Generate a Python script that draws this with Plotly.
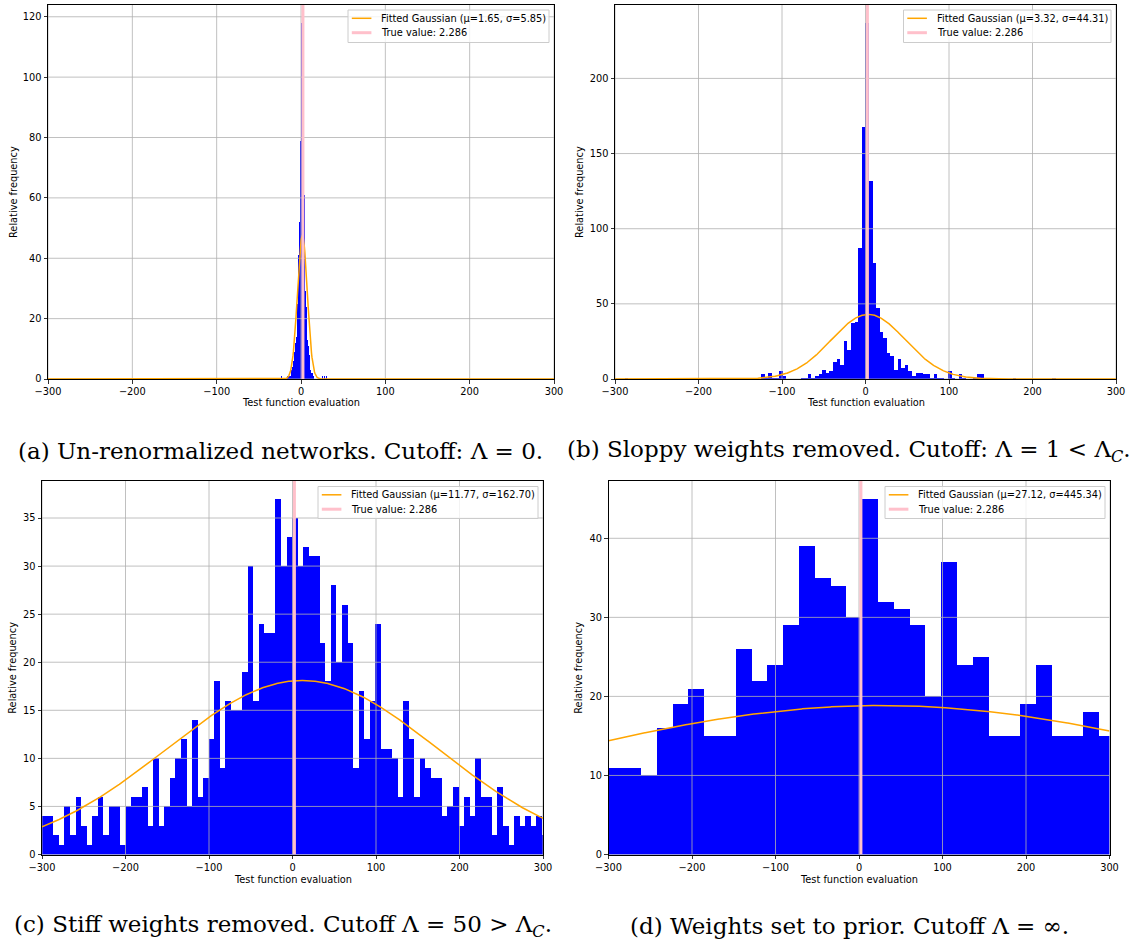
import numpy as np
import plotly.graph_objects as go

W, H = 1132, 947

# ---------------- data ----------------
x_ticks = [-300, -200, -100, 0, 100, 200, 300]
x_limits = [-300, 300]
true_value = 2.286

# (a) Un-renormalized networks
a_edge0 = -17.12
a_bin_width = 0.62
a_dense_start = 0
a_counts = [0, 1, 2, 1, 2, 1, 2, 1, 2, 3, 4, 4, 5, 6, 7, 9, 10, 12, 14, 20,
            25, 33, 41, 45, 52, 60, 79, 72, 118, 90, 75, 70, 65, 58, 61, 35,
            29, 28, 24, 20, 13, 11, 10, 8, 5, 3, 2, 2, 1, 2, 1, 1, 1, 0, 1,
            0, 1, 0, 1]
a_sparse_index = [-141, -13, -10, -7, 65, 68, 72, 76, 115]
a_sparse_counts = [1, 1, 1, 1, 1, 1, 1, 1, 1]
a_mu, a_sigma, a_peak = 1.65, 5.85, 47.5
a_yticks = [0, 20, 40, 60, 80, 100, 120]

# (b) Sloppy weights removed
b_edge0 = -0.2
b_bin_width = 4.3
b_dense_start = -33
b_counts = [1, 1, 0, 0, 3, 1, 4, 1, 1, 5, 2, 0, 0, 0, 0, 1, 1, 3, 1, 2,
            3, 6, 4, 5, 11, 13, 9, 25, 19, 37, 38, 87, 168, 237, 132, 77, 47,
            31, 27, 17, 15, 6, 13, 7, 9, 5, 2, 4, 4, 3, 3, 1, 3, 1, 1, 0, 5,
            1, 0, 3, 1, 0, 0, 1, 3, 3, 0, 0, 1, 1]
b_sparse_index = [-67, -46, -40, 41, 52]
b_sparse_counts = [1, 1, 1, 1, 1]
b_mu, b_sigma, b_peak = 3.32, 44.31, 43.0
b_yticks = [0, 50, 100, 150, 200]

# (c) Stiff weights removed
c_edge0 = -299.7
c_bin_width = 6.648
c_dense_start = 0
c_counts = [4, 4, 2, 1, 5, 2, 6, 3, 1, 4, 6, 2, 5, 5, 1, 5, 6, 6, 7, 3,
            10, 3, 5, 8, 10, 12, 5, 14, 6, 8, 12, 18, 9, 16, 15, 15, 19, 30,
            16, 24, 23, 23, 37, 30, 33, 35, 30, 32, 31, 31, 22, 18, 28, 20,
            26, 22, 9, 17, 12, 16, 24, 11, 11, 10, 6, 16, 12, 6, 10, 9, 8, 8,
            4, 5, 7, 3, 6, 4, 10, 6, 6, 2, 7, 3, 1, 4, 3, 4, 3, 4, 2]
c_sparse_index = []
c_sparse_counts = []
c_mu, c_sigma, c_peak = 11.77, 162.70, 18.1
c_yticks = [0, 5, 10, 15, 20, 25, 30, 35]

# (d) Weights set to prior
d_edge0 = -317.8
d_bin_width = 18.92
d_dense_start = 0
d_counts = [12, 11, 11, 10, 16, 19, 21, 15, 15, 26, 22, 24, 29, 39, 35, 34,
            30, 45, 32, 31, 29, 20, 37, 24, 25, 15, 15, 19, 24, 15, 15, 18, 15]
d_sparse_index = []
d_sparse_counts = []
d_mu, d_sigma, d_peak = 27.12, 445.34, 18.85
d_yticks = [0, 10, 20, 30, 40]

captions = [
    "(a) Un-renormalized networks. Cutoff: Λ = 0.",
    "(b) Sloppy weights removed. Cutoff: Λ = 1 &lt; Λ<sub><i>C</i></sub>.",
    "(c) Stiff weights removed. Cutoff Λ = 50 &gt; Λ<sub><i>C</i></sub>.",
    "(d) Weights set to prior. Cutoff Λ = ∞.",
]

x_title = "Test function evaluation"
y_title = "Relative frequency"

# ---------------- layout geometry (pixels) ----------------
boxes = [(48, 5, 554, 379), (615, 5, 1116, 379),
         (42, 481, 543, 854.5), (608.5, 481, 1109.5, 854.5)]
legend_boxes = [(348, 10, 549, 42.5), (903.5, 10, 1111, 42.5),
                (318, 486.5, 538, 518.5), (885, 486.5, 1105, 518.5)]
ytitle_x = [13, 579, 13, 579]
xtitle_y = [403, 403, 879, 879]
caption_pos = [(280, 451), (849, 451), (283, 926), (849, 926)]

FONT = "DejaVu Sans"
FS = 9.8
BLUE = "#0000ff"
ORANGE = "#ffa500"
PINK = "#ffc0cb"
GRID = "#b0b0b0"

panels = [
    (a_edge0, a_bin_width, a_dense_start, a_counts, a_sparse_index, a_sparse_counts, a_mu, a_sigma, a_peak, a_yticks),
    (b_edge0, b_bin_width, b_dense_start, b_counts, b_sparse_index, b_sparse_counts, b_mu, b_sigma, b_peak, b_yticks),
    (c_edge0, c_bin_width, c_dense_start, c_counts, c_sparse_index, c_sparse_counts, c_mu, c_sigma, c_peak, c_yticks),
    (d_edge0, d_bin_width, d_dense_start, d_counts, d_sparse_index, d_sparse_counts, d_mu, d_sigma, d_peak, d_yticks),
]

fig = go.Figure()
layout = dict(width=W, height=H,
              margin=dict(l=0, r=0, t=0, b=0, pad=0, autoexpand=False),
              paper_bgcolor="white", plot_bgcolor="white",
              bargap=0, barmode="overlay", showlegend=False,
              font=dict(family=FONT, size=FS, color="black"))
annotations = []
shapes = []


def px_x(v):
    return v / W


def px_y(v):
    return 1 - v / H


for i, (edge0, bw, dstart, counts, sidx, scounts, mu, sigma, peak, yticks) in enumerate(panels):
    n = "" if i == 0 else str(i + 1)
    xa, ya = "x" + n, "y" + n
    idx = list(range(dstart, dstart + len(counts))) + list(sidx)
    cnt = list(counts) + list(scounts)
    centers = [edge0 + (k + 0.5) * bw for k in idx]
    ytop = 1.05 * max(cnt)

    fig.add_trace(go.Bar(x=centers, y=cnt, width=bw, marker=dict(color=BLUE, line=dict(width=0)),
                         showlegend=False, hoverinfo="skip", xaxis=xa, yaxis=ya))
    # grid (drawn above bars, below lines, like matplotlib's default)
    gx, gy = [], []
    for t in x_ticks:
        gx += [t, t, None]
        gy += [0, ytop, None]
    for t in yticks:
        gx += [x_limits[0], x_limits[1], None]
        gy += [t, t, None]
    fig.add_trace(go.Scatter(x=gx, y=gy, mode="lines", line=dict(color=GRID, width=0.8),
                             showlegend=False, hoverinfo="skip", xaxis=xa, yaxis=ya))
    xs = np.linspace(x_limits[0], x_limits[1], 1201)
    ys = peak * np.exp(-0.5 * ((xs - mu) / sigma) ** 2)
    fig.add_trace(go.Scatter(x=xs, y=ys, mode="lines", line=dict(color=ORANGE, width=1.5),
                             name=f"Fitted Gaussian (μ={mu:.2f}, σ={sigma:.2f})",
                             hoverinfo="skip", xaxis=xa, yaxis=ya))
    fig.add_trace(go.Scatter(x=[true_value, true_value], y=[0, ytop], mode="lines",
                             line=dict(color=PINK, width=3), hoverinfo="skip",
                             name=f"True value: {true_value}", xaxis=xa, yaxis=ya))

    l, t, r, b = boxes[i]
    axis_common = dict(showgrid=False, zeroline=False, showline=True, linecolor="black",
                       linewidth=1, mirror=True, ticks="outside", ticklen=3.5, tickwidth=0.8,
                       tickcolor="black", tickfont=dict(family=FONT, size=FS, color="black"),
                       layer="above traces", automargin=False)
    layout["xaxis" + n] = dict(axis_common, domain=[px_x(l), px_x(r)], range=x_limits,
                               tickvals=x_ticks, anchor=ya)
    layout["yaxis" + n] = dict(axis_common, domain=[px_y(b), px_y(t)], range=[0, ytop],
                               tickvals=yticks, anchor=xa)

    # legend (matplotlib style: compact box, short handles)
    bl, bt, br, bb = legend_boxes[i]
    shapes.append(dict(type="rect", xref="paper", yref="paper",
                       x0=px_x(bl), x1=px_x(br), y0=px_y(bb), y1=px_y(bt),
                       fillcolor="rgba(255,255,255,0.8)", line=dict(color="#cccccc", width=1),
                       layer="above"))
    rows = [(bt + 8.3, ORANGE, 1.5, f"Fitted Gaussian (μ={mu:.2f}, σ={sigma:.2f})"),
            (bt + 22.7, PINK, 3, f"True value: {true_value}")]
    for ry, col, lw, label in rows:
        shapes.append(dict(type="line", xref="paper", yref="paper",
                           x0=px_x(bl + 3.8), x1=px_x(bl + 23.4), y0=px_y(ry), y1=px_y(ry),
                           line=dict(color=col, width=lw), layer="above"))
        annotations.append(dict(text=label, x=px_x(bl + 31.2), y=px_y(ry),
                                xref="paper", yref="paper", showarrow=False,
                                xanchor="left", yanchor="middle",
                                font=dict(family=FONT, size=FS, color="black")))

    annotations.append(dict(text=x_title, x=px_x((l + r) / 2), y=px_y(xtitle_y[i]),
                            xref="paper", yref="paper", showarrow=False,
                            xanchor="center", yanchor="middle",
                            font=dict(family=FONT, size=FS, color="black")))
    annotations.append(dict(text=y_title, x=px_x(ytitle_x[i]), y=px_y((t + b) / 2),
                            xref="paper", yref="paper", showarrow=False, textangle=-90,
                            xanchor="center", yanchor="middle",
                            font=dict(family=FONT, size=FS, color="black")))
    cx, cy = caption_pos[i]
    annotations.append(dict(text=captions[i], x=px_x(cx), y=px_y(cy),
                            xref="paper", yref="paper", showarrow=False,
                            xanchor="center", yanchor="middle",
                            font=dict(family="DejaVu Serif", size=23, color="black")))

layout["annotations"] = annotations
layout["shapes"] = shapes
fig.update_layout(**layout)
fig.write_html("out.html", config={"displayModeBar": False, "staticPlot": True},
               post_script="document.body.style.margin='0';document.body.style.overflow='hidden';")
